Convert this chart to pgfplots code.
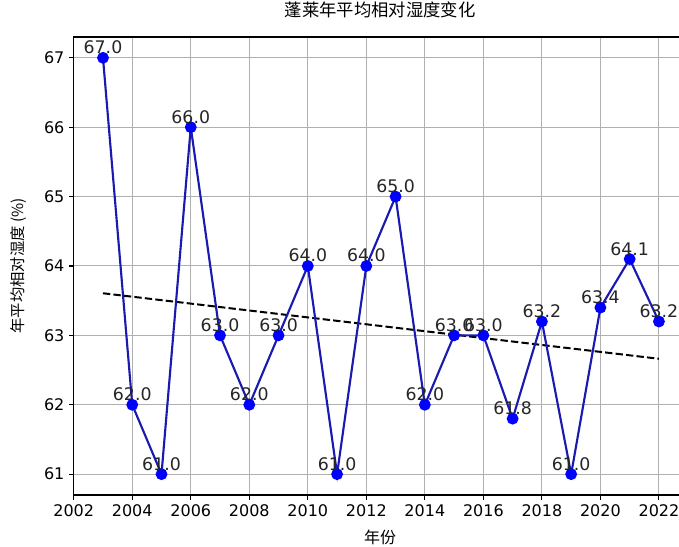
\documentclass[border=0pt]{standalone}
\usepackage{pgfplots}
\pgfplotsset{compat=1.18}
\usepackage{fontspec}
\setmainfont{DejaVu Sans}
\newfontfamily\cjk{Noto Sans CJK SC}
\definecolor{gridgray}{HTML}{B0B0B0}
\definecolor{linecol}{HTML}{1A1AB0}
\begin{document}
\begin{tikzpicture}
\begin{axis}[
  scale only axis, width=459.75pt, height=343.5pt,
  xmin=2002, xmax=2022.95, ymin=60.7, ymax=67.3,
  xtick={2002,2004,...,2022}, ytick={61,...,67},
  xticklabel style={/pgf/number format/1000 sep=},
  /pgf/number format/assume math mode=true,
  ticklabel style={font=\fontsize{12}{14}\selectfont},
  tick align=outside, xtick pos=bottom, ytick pos=left,
  major tick length=3.5pt,
  tick style={black, line width=0.8pt},
  grid=major, grid style={gridgray, line width=0.75pt},
  axis line style={line width=0.8pt},
  title={\cjk 蓬莱年平均相对湿度变化},
  title style={font=\fontsize{13}{15}\selectfont, at={(axis description cs:0.5,1.0408)}, anchor=center},
  xlabel={\cjk 年份},
  xlabel style={font=\fontsize{12}{14}\selectfont, at={(axis description cs:0.5,-0.0917)}, anchor=center},
  ylabel={\cjk 年平均相对湿度 (\%)},
  ylabel style={font=\fontsize{11.5}{14}\selectfont, at={(axis description cs:-0.0894,0.5)}, anchor=center},
]
% trend line
\addplot[black, line width=1.5pt, dash pattern=on 5.5pt off 2.4pt] coordinates {(2003,63.607) (2022,62.663)};
% yearly values
\addplot[linecol, line width=1.6pt, mark=*, mark size=3.6pt, mark options={fill=blue, draw=blue},
  nodes near coords={\pgfmathprintnumber[fixed,fixed zerofill,precision=1]{\pgfplotspointmeta}},
  every node near coord/.append style={anchor=base, inner sep=0pt, yshift=3pt,
    font=\fontsize{13}{15}\selectfont, text=black!85}]
coordinates {
  (2003,67.0) (2004,62.0) (2005,61.0) (2006,66.0) (2007,63.0)
  (2008,62.0) (2009,63.0) (2010,64.0) (2011,61.0) (2012,64.0)
  (2013,65.0) (2014,62.0) (2015,63.0) (2016,63.0) (2017,61.8)
  (2018,63.2) (2019,61.0) (2020,63.4) (2021,64.1) (2022,63.2)
};
\end{axis}
\pgfresetboundingbox
\path[use as bounding box] ([shift={(-55.3pt,-39pt)}]current axis.south west) rectangle ([shift={(-5.8pt,27.75pt)}]current axis.north east);
\end{tikzpicture}
\end{document}
